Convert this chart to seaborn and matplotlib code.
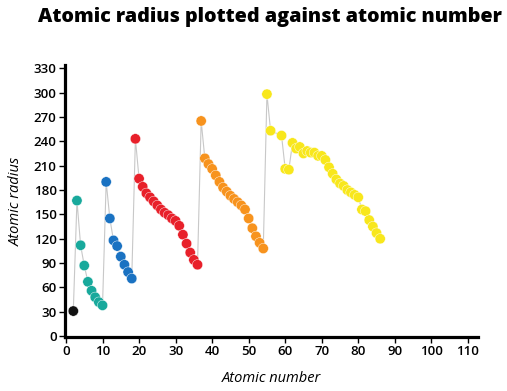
import matplotlib
matplotlib.use("Agg")
import matplotlib.pyplot as plt
import seaborn as sns
import pandas as pd

# atomic number (La, Ce and H are not in the chart)
atomic_number = [2,
                 3, 4, 5, 6, 7, 8, 9, 10,
                 11, 12, 13, 14, 15, 16, 17, 18,
                 19, 20, 21, 22, 23, 24, 25, 26, 27, 28, 29, 30, 31, 32, 33, 34, 35, 36,
                 37, 38, 39, 40, 41, 42, 43, 44, 45, 46, 47, 48, 49, 50, 51, 52, 53, 54,
                 55, 56, 59, 60, 61, 62, 63, 64, 65, 66, 67, 68, 69, 70, 71, 72, 73, 74,
                 75, 76, 77, 78, 79, 80, 81, 82, 83, 84, 85, 86]
atomic_radius = [31,
                 167, 112, 87, 67, 56, 48, 42, 38,
                 190, 145, 118, 111, 98, 88, 79, 71,
                 243, 194, 184, 176, 171, 166, 161, 156, 152, 149, 145, 142, 136, 125, 114, 103, 94, 88,
                 265, 219, 212, 206, 198, 190, 183, 178, 173, 169, 165, 161, 156, 145, 133, 123, 115, 108,
                 298, 253, 247, 206, 205, 238, 231, 233, 225, 228, 226, 226, 222, 222, 217, 208, 200, 193,
                 188, 185, 180, 177, 174, 171, 156, 154, 143, 135, 127, 120]
period_starts = [2, 3, 11, 19, 37, 55]
period_names = ["1", "2", "3", "4", "5", "6"]
period_colors = ["#111111", "#18a99c", "#1a72c2", "#e8202a", "#f7931e", "#f8e71c"]

period = [period_names[sum(z >= s for s in period_starts) - 1] for z in atomic_number]
df = pd.DataFrame({"z": atomic_number, "r": atomic_radius, "period": period})

sns.set_style("ticks")
plt.rcParams["font.family"] = ["Open Sans", "DejaVu Sans"]
plt.rcParams.update({"text.color": "black", "axes.labelcolor": "black",
                     "xtick.color": "black", "ytick.color": "black"})

fig = plt.figure(figsize=(5.07, 3.91), dpi=100)
ax = fig.add_axes([0.128, 0.138, 0.815, 0.696])

sns.lineplot(data=df, x="z", y="r", color="#c8c8c8", lw=0.8, ax=ax, zorder=1)
sns.scatterplot(data=df, x="z", y="r", hue="period",
                palette=dict(zip(period_names, period_colors)),
                s=55, edgecolor="white", linewidth=0.3, legend=False, ax=ax, zorder=2)

ax.set_xlim(-0.3, 112.8)
ax.set_ylim(-1, 334)
ax.set_xticks(range(0, 111, 10))
ax.set_yticks(range(0, 331, 30))
ax.tick_params(length=4, width=1, labelsize=9.5, pad=2)
for lab in ax.get_xticklabels() + ax.get_yticklabels():
    lab.set_fontweight("semibold")
for sp in ["left", "bottom"]:
    ax.spines[sp].set_linewidth(2.3)
    ax.spines[sp].set_color("black")
sns.despine(ax=ax)

ax.set_xlabel("Atomic number", style="italic", fontsize=10.5, labelpad=9)
ax.set_ylabel("Atomic radius", style="italic", fontsize=10.5, labelpad=7)
fig.suptitle("Atomic radius plotted against atomic number", x=0.532, y=0.982,
             fontsize=14.2, fontweight="heavy")

fig.savefig("out.png", dpi=100)
